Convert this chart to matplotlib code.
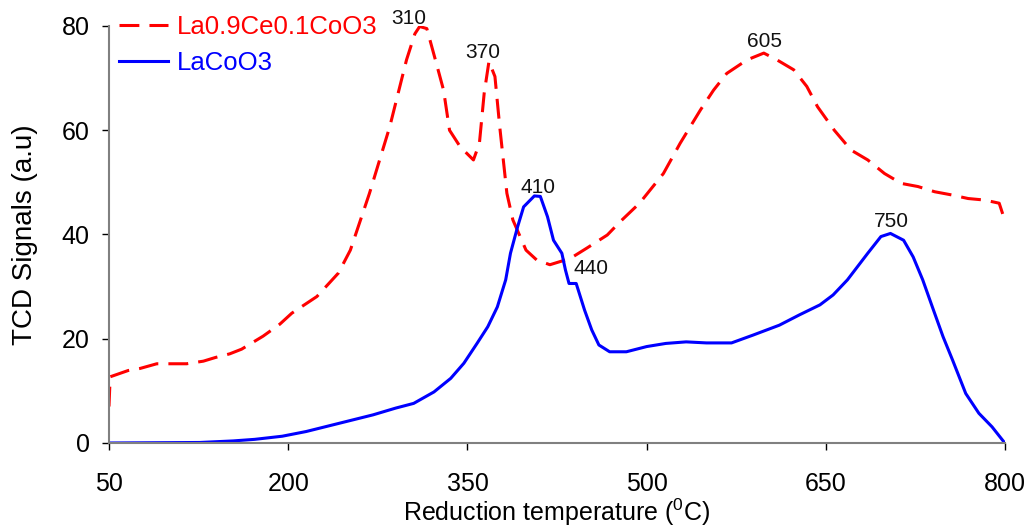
import matplotlib
matplotlib.use("Agg")
import matplotlib.pyplot as plt

plt.rcParams['font.family'] = ['Liberation Sans', 'DejaVu Sans']
plt.rcParams['mathtext.fontset'] = 'custom'
plt.rcParams['mathtext.rm'] = 'Liberation Sans'

# La0.9Ce0.1CoO3 (red dashed)
temp_ce = [50, 51, 66, 76, 90, 115, 129, 139, 151, 161, 179, 193, 203, 224, 242, 252,
           268, 285, 299, 306, 310, 316, 324, 330, 335, 344, 355, 360, 364, 368, 373,
           377, 383, 388, 399, 408, 419, 436, 450, 467, 478, 494, 514, 528, 545, 556,
           567, 584, 598, 609, 623, 634, 643, 657, 671, 685, 699, 713, 727, 741, 755,
           769, 783, 795, 800]
sig_ce = [7.0, 12.7, 13.9, 14.3, 15.2, 15.2, 15.7, 16.4, 17.1, 18.0, 20.5, 22.8, 24.9,
          28.1, 32.6, 37.0, 47.9, 60.7, 73.5, 78.5, 79.9, 79.5, 72.8, 67.7, 60.0, 56.8,
          54.3, 57.5, 67.1, 73.2, 70.3, 60.7, 47.9, 42.8, 37.0, 35.1, 34.2, 35.4, 37.4,
          39.9, 42.5, 46.0, 51.7, 57.5, 63.9, 67.7, 70.9, 73.5, 74.8, 73.5, 71.6, 68.4,
          64.5, 60.0, 56.2, 54.3, 51.7, 49.8, 49.2, 48.2, 47.6, 46.9, 46.6, 46.0, 42.5]

# LaCoO3 (blue solid)
temp_la = [50, 126, 154, 172, 195, 215, 243, 271, 290, 305, 322, 336, 347, 358, 367,
           375, 382, 386, 392, 397, 406, 411, 417, 422, 429, 432, 435, 441, 448, 454,
           460, 469, 483, 500, 516, 533, 550, 571, 589, 611, 628, 645, 656, 668, 685,
           696, 704, 715, 723, 731, 740, 748, 756, 767, 778, 789, 799]
sig_la = [0.0, 0.1, 0.4, 0.7, 1.3, 2.2, 3.8, 5.4, 6.7, 7.6, 9.8, 12.4, 15.3, 19.1, 22.3,
          26.1, 31.3, 36.4, 41.5, 45.3, 47.4, 47.3, 43.4, 38.9, 36.4, 33.2, 30.6, 30.6,
          25.5, 21.7, 18.8, 17.5, 17.5, 18.5, 19.1, 19.4, 19.2, 19.2, 20.7, 22.6, 24.6,
          26.5, 28.4, 31.3, 36.4, 39.6, 40.2, 38.9, 35.7, 31.3, 25.5, 20.4, 15.9, 9.5,
          5.7, 3.1, 0.2]

peak_labels = ['310', '370', '410', '440', '605', '750']
peak_x = [301, 363, 409, 453, 599, 705]
peak_y = [81.5, 75, 49, 33.4, 77, 42.5]

fig = plt.figure(figsize=(10.32, 5.27), dpi=100)
ax = fig.add_axes([0.1056, 0.1594, 0.8684, 0.7913])

line_ce, = ax.plot(temp_ce, sig_ce, color='#ff0000', lw=2.2, dashes=(6.5, 3.3),
                   label='La0.9Ce0.1CoO3')
line_la, = ax.plot(temp_la, sig_la, color='#0000ff', lw=2.2, label='LaCoO3')

for t, px, py in zip(peak_labels, peak_x, peak_y):
    ax.text(px, py, t, fontsize=15, ha='center', va='center', color='#111111')

ax.set_xlim(50, 800)
ax.set_ylim(0, 80)
ax.set_xticks([50, 200, 350, 500, 650, 800])
ax.set_yticks([0, 20, 40, 60, 80])
ax.tick_params(axis='both', labelsize=18, length=5, width=1, direction='out', colors='black')
ax.tick_params(axis='y', pad=9)
ax.tick_params(axis='x', pad=16)

for s in ['top', 'right']:
    ax.spines[s].set_visible(False)
for s in ['left', 'bottom']:
    ax.spines[s].set_color('#808080')
    ax.spines[s].set_linewidth(1.5)

ax.set_xlabel(r'Reduction temperature ($^{0}$C)', fontsize=18, labelpad=0)
ax.set_ylabel('TCD Signals (a.u)', fontsize=20, labelpad=17)

leg = ax.legend(loc='upper left', bbox_to_anchor=(0.0, 1.052), frameon=False, fontsize=18.5,
                handlelength=1.9, handletextpad=0.35, labelspacing=0.5, borderaxespad=0)
for text, line in zip(leg.get_texts(), [line_ce, line_la]):
    text.set_color(line.get_color())

fig.savefig('out.png', dpi=100)
